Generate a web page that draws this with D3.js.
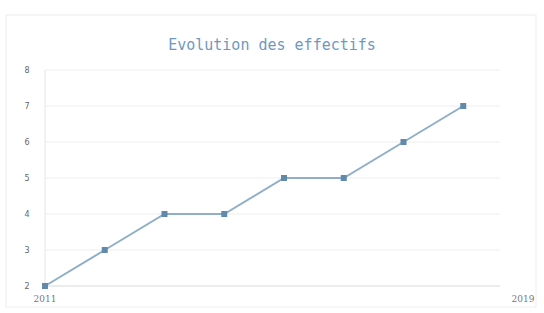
<!DOCTYPE html>
<html><head><meta charset="utf-8">
<script src="https://cdn.jsdelivr.net/npm/d3@7/dist/d3.min.js"></script>
<style>body{margin:0;background:#fff;}svg{display:block;}</style>
</head><body>
<script>
const years = [2011, 2012, 2013, 2014, 2015, 2016, 2017, 2018];
const values = [2, 3, 4, 4, 5, 5, 6, 7];
const yTicks = [2, 3, 4, 5, 6, 7, 8];
const xTicks = [2011, 2019];
const title = "Evolution des effectifs";

const W = 544, H = 313;
const svg = d3.select("body").append("svg").attr("width", W).attr("height", H);

svg.append("rect").attr("x", 6).attr("y", 15).attr("width", 530).attr("height", 292)
  .attr("fill", "#fff").attr("stroke", "#eeeeee").attr("stroke-width", 1);

const x = d3.scaleLinear().domain([2011, 2019]).range([45, 523]);
const y = d3.scaleLinear().domain([2, 8]).range([286, 70]);

// gridlines
svg.append("g").selectAll("line").data(yTicks.slice(1)).join("line")
  .attr("x1", 45).attr("x2", 500)
  .attr("y1", d => y(d)).attr("y2", d => y(d))
  .attr("stroke", "#eeeeee").attr("stroke-width", 1);

// left axis line
svg.append("line").attr("x1", 45).attr("x2", 45).attr("y1", y(8)).attr("y2", y(2))
  .attr("stroke", "#e6e6e6");
// bottom axis line
svg.append("line").attr("x1", 45).attr("x2", 500).attr("y1", y(2)).attr("y2", y(2))
  .attr("stroke", "#d9d9d9");

// y labels
svg.append("g").selectAll("text").data(yTicks).join("text")
  .attr("x", 27).attr("y", d => y(d)).attr("dy", "0.35em")
  .attr("text-anchor", "middle").attr("font-family", "DejaVu Sans")
  .attr("font-size", 8).attr("fill", "#666").text(d => d);

// x labels
svg.append("g").selectAll("text").data(xTicks).join("text")
  .attr("x", d => x(d)).attr("y", 302)
  .attr("text-anchor", "middle").attr("font-family", "DejaVu Serif")
  .attr("font-size", 9).attr("fill", "#777").text(d => d);

// title
svg.append("text").attr("x", 272).attr("y", 50).attr("text-anchor", "middle")
  .attr("font-family", "DejaVu Sans Mono").attr("font-size", 15)
  .attr("fill", "#6f98c0").text(title);

const data = years.map((yr, i) => ({yr, v: values[i]}));
const line = d3.line().x(d => x(d.yr)).y(d => y(d.v));
svg.append("path").datum(data).attr("d", line)
  .attr("fill", "none").attr("stroke", "#8fafc8").attr("stroke-width", 2);

svg.append("g").selectAll("rect").data(data).join("rect")
  .attr("x", d => x(d.yr) - 3).attr("y", d => y(d.v) - 3)
  .attr("width", 6).attr("height", 6)
  .attr("fill", "#5f8aab");
</script>
</body></html>
